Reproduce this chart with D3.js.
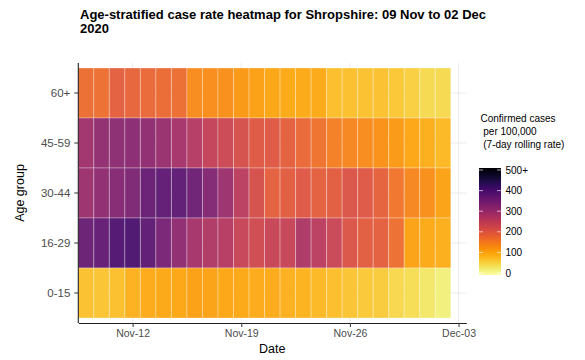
<!DOCTYPE html>
<html>
<head>
<meta charset="utf-8">
<script src="https://cdn.jsdelivr.net/npm/d3@7"></script>
<style>
  html, body { margin: 0; padding: 0; background: #fff; }
  svg { display: block; font-family: "Liberation Sans", Arial, sans-serif; }
</style>
</head>
<body>
<svg id="chart" width="585" height="360"></svg>
<script>
// ---------- data ----------
const dates = [
  "2020-11-09","2020-11-10","2020-11-11","2020-11-12","2020-11-13","2020-11-14",
  "2020-11-15","2020-11-16","2020-11-17","2020-11-18","2020-11-19","2020-11-20",
  "2020-11-21","2020-11-22","2020-11-23","2020-11-24","2020-11-25","2020-11-26",
  "2020-11-27","2020-11-28","2020-11-29","2020-11-30","2020-12-01","2020-12-02"
];
const ageGroups = ["60+", "45-59", "30-44", "16-29", "0-15"];
const rate60plus = [170,168,190,185,178,175,170,135,132,130,120,110,105,100,100,100,80,78,75,75,70,62,50,50];
const rate45to59 = [290,310,315,320,312,300,285,265,245,232,215,200,200,190,178,165,150,140,135,128,118,105,95,85];
const rate30to44 = [295,312,325,335,362,372,375,355,330,295,255,215,190,195,202,190,195,208,202,188,162,140,130,108];
const rate16to29 = [360,368,392,398,375,342,312,285,270,260,240,225,238,240,272,255,235,208,195,190,168,108,100,95];
const rate0to15  = [75,72,78,92,98,102,105,110,108,105,102,98,98,92,90,85,80,72,68,65,52,45,35,25];
const xTickDates = ["2020-11-12","2020-11-19","2020-11-26","2020-12-03"];
const legendTicks = [0, 100, 200, 300, 400, 500];
const legendTickLabels = ["0", "100", "200", "300", "400", "500+"];
const rateMax = 500;

const seriesByGroup = {
  "60+": rate60plus, "45-59": rate45to59, "30-44": rate30to44,
  "16-29": rate16to29, "0-15": rate0to15
};
const parseDate = s => { const [y, m, d] = s.split("-").map(Number); return new Date(y, m - 1, d); };
const cells = [];
ageGroups.forEach(g => {
  seriesByGroup[g].forEach((v, i) => cells.push({ group: g, date: parseDate(dates[i]), value: v }));
});

// ---------- layout ----------
const svg = d3.select("#chart");
const panel = { left: 78.3, right: 466.3, top: 63, bottom: 323 };
const firstDay = parseDate(dates[0]);
const lastDay = parseDate(dates[dates.length - 1]);
const halfDay = 12 * 3600 * 1000;

const x = d3.scaleTime()
  .domain([new Date(+firstDay - halfDay), new Date(+d3.timeDay.offset(lastDay, 1) + halfDay)])
  .range([panel.left, panel.right]);
const y = d3.scaleBand().domain(ageGroups).range([68, 318]).padding(0);
const color = d3.scaleSequential(t => d3.interpolateInferno(1 - t)).domain([0, rateMax]).clamp(true);

const dayW = x(d3.timeDay.offset(firstDay, 1)) - x(firstDay);

// grid lines
const grid = svg.append("g");
grid.selectAll("line.h").data(ageGroups).join("line")
  .attr("x1", panel.left).attr("x2", panel.right)
  .attr("y1", d => y(d) + y.bandwidth() / 2).attr("y2", d => y(d) + y.bandwidth() / 2)
  .attr("stroke", "#ebebeb").attr("stroke-width", 1);
grid.selectAll("line.v").data(xTickDates.map(parseDate)).join("line")
  .attr("x1", d => x(d)).attr("x2", d => x(d))
  .attr("y1", panel.top).attr("y2", panel.bottom)
  .attr("stroke", "#ebebeb").attr("stroke-width", 1);

// tiles
svg.append("g").selectAll("rect").data(cells).join("rect")
  .attr("x", d => x(new Date(+d.date - halfDay)))
  .attr("y", d => y(d.group))
  .attr("width", dayW)
  .attr("height", y.bandwidth())
  .attr("fill", d => color(d.value))
  .attr("fill-opacity", 0.93)
  .attr("stroke", "rgba(255,255,255,0.3)")
  .attr("stroke-width", 1);

// axes
const xAxis = d3.axisBottom(x)
  .tickValues(xTickDates.map(parseDate))
  .tickFormat(d3.timeFormat("%b-%d"))
  .tickSize(4).tickSizeOuter(0).tickPadding(3);
const gx = svg.append("g").attr("transform", `translate(0,${panel.bottom})`).call(xAxis);
gx.select(".domain").attr("stroke", "#222").attr("stroke-width", 1.1);
gx.selectAll(".tick line").attr("stroke", "#333");
gx.selectAll(".tick text").attr("fill", "#4d4d4d").style("font-size", "10.5px")
  .style("font-family", "Liberation Sans, Arial, sans-serif");

const yAxis = d3.axisLeft(y).tickSize(4).tickSizeOuter(0).tickPadding(4);
const gy = svg.append("g").attr("transform", `translate(${panel.left},0)`).call(yAxis);
gy.select(".domain").attr("d", `M0,${panel.top}V${panel.bottom}`)
  .attr("stroke", "#222").attr("stroke-width", 1.1);
gy.selectAll(".tick line").attr("stroke", "#333");
gy.selectAll(".tick text").attr("fill", "#4d4d4d").style("font-size", "11.5px")
  .style("font-family", "Liberation Sans, Arial, sans-serif");

// axis titles
svg.append("text").attr("x", (panel.left + panel.right) / 2).attr("y", 353)
  .attr("text-anchor", "middle").style("font-size", "12.5px").attr("fill", "#000").text("Date");
svg.append("text").attr("transform", `translate(24,${(68 + 318) / 2}) rotate(-90)`)
  .attr("text-anchor", "middle").style("font-size", "12.5px").attr("fill", "#000").text("Age group");

// title
const title = svg.append("text").style("font-size", "13px").style("font-weight", "bold").attr("fill", "#000");
title.append("tspan").attr("x", 80).attr("y", 19).text("Age-stratified case rate heatmap for Shropshire: 09 Nov to 02 Dec");
title.append("tspan").attr("x", 80).attr("y", 33).text("2020");

// legend
const lg = svg.append("g");
const legTitle = ["Confirmed cases", " per 100,000", " (7-day rolling rate)"];
lg.selectAll("text.lt").data(legTitle).join("text")
  .attr("x", 480.5).attr("y", (d, i) => 122 + i * 13)
  .style("font-size", "10px").style("white-space", "pre").attr("xml:space", "preserve")
  .attr("fill", "#000").text(d => d);

const barX = 479, barW = 22;
const ly = d3.scaleLinear().domain([0, rateMax]).range([273, 170]);
const defs = svg.append("defs");
const grad = defs.append("linearGradient").attr("id", "lgrad")
  .attr("x1", 0).attr("y1", 1).attr("x2", 0).attr("y2", 0);
d3.range(0, 1.0001, 0.05).forEach(t => {
  grad.append("stop").attr("offset", t).attr("stop-color", color(t * rateMax));
});
lg.append("rect").attr("x", barX).attr("y", ly(rateMax) - 2).attr("width", barW)
  .attr("height", ly(0) - ly(rateMax) + 4).attr("fill", "url(#lgrad)");
lg.selectAll("line.tl").data(legendTicks).join("line")
  .attr("x1", barX).attr("x2", barX + 4)
  .attr("y1", d => ly(d)).attr("y2", d => ly(d))
  .attr("stroke", "rgba(255,255,255,0.8)").attr("stroke-width", 0.8);
lg.selectAll("line.tr").data(legendTicks).join("line")
  .attr("x1", barX + barW - 4).attr("x2", barX + barW)
  .attr("y1", d => ly(d)).attr("y2", d => ly(d))
  .attr("stroke", "rgba(255,255,255,0.8)").attr("stroke-width", 0.8);
lg.selectAll("text.tk").data(legendTicks).join("text")
  .attr("x", barX + barW + 4.5).attr("y", d => ly(d)).attr("dy", "0.35em")
  .style("font-size", "10px").attr("fill", "#000")
  .text((d, i) => legendTickLabels[i]);
</script>
</body>
</html>
